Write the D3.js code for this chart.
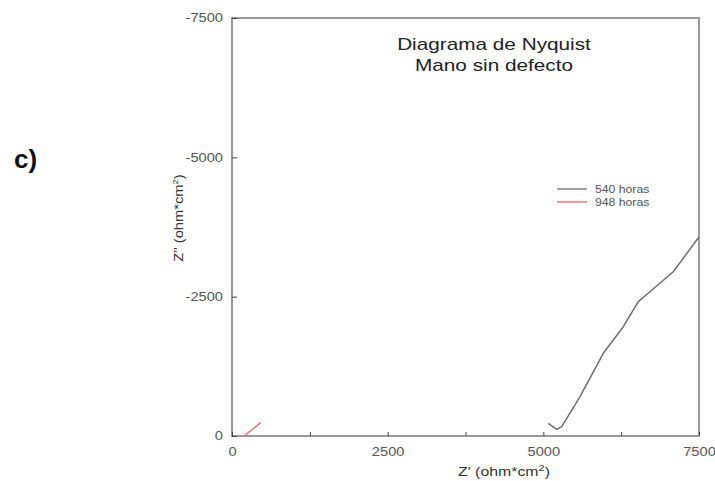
<!DOCTYPE html>
<html>
<head>
<meta charset="utf-8">
<script src="https://cdn.jsdelivr.net/npm/d3@7"></script>
<style>
  html, body { margin: 0; padding: 0; background: #fff; }
  svg { display: block; }
</style>
</head>
<body>
<svg id="chart" width="715" height="481"></svg>
<script>
// Impedance spectra (Z' real, Z'' imaginary), ohm*cm^2
const series540Re = [5080, 5215, 5295, 5589, 5963, 6284, 6525, 6713, 7087, 7463, 7500];
const series540Im = [-228, -120, -167, -705, -1484, -1961, -2410, -2589, -2948, -3517, -3570];
const series948Re = [200, 460];
const series948Im = [-5, -240];
const seriesNames = ["540 horas", "948 horas"];
const seriesColors = ["#6e6e6e", "#e8606a"];
const xTickValues = [0, 1250, 2500, 3750, 5000, 6250, 7500];
const xTickLabels = ["0", "", "2500", "", "5000", "", "7500"];
const yTickValues = [0, -2500, -5000, -7500];
const yTickLabels = ["0", "-2500", "-5000", "-7500"];

const svg = d3.select("#chart");
const plotLeft = 232, plotRight = 699, plotTop = 18, plotBottom = 436;

const x = d3.scaleLinear().domain([0, 7500]).range([plotLeft, plotRight]);
const y = d3.scaleLinear().domain([0, -7500]).range([plotBottom, plotTop]);

const axisColor = "#9a9a9a";
const labelColor = "#555";
const font = "Arial, 'Liberation Sans', sans-serif";
// the typeface is drawn slightly widened throughout
const widen = 1.22;

function widenText(sel) {
  sel.each(function () {
    const n = this;
    const w = n.getComputedTextLength();
    if (w > 0) {
      n.setAttribute("textLength", (w * widen).toFixed(1));
      n.setAttribute("lengthAdjust", "spacingAndGlyphs");
    }
  });
}

// frame
svg.append("rect")
  .attr("x", plotLeft).attr("y", plotTop)
  .attr("width", plotRight - plotLeft).attr("height", plotBottom - plotTop)
  .attr("fill", "none").attr("stroke", axisColor).attr("stroke-width", 2);

// x axis (ticks pointing inward)
const xAxis = d3.axisBottom(x)
  .tickValues(xTickValues)
  .tickSize(-4)
  .tickFormat((d, i) => xTickLabels[i]);
const gx = svg.append("g").attr("transform", `translate(0,${plotBottom})`).call(xAxis);
gx.select(".domain").remove();
gx.selectAll(".tick line").attr("stroke", "#444").attr("stroke-width", 1);
gx.selectAll(".tick text")
  .attr("y", 11)
  .attr("font-family", font)
  .attr("font-size", 12).attr("fill", labelColor)
  .call(widenText);

// y axis (ticks pointing inward)
const yAxis = d3.axisLeft(y)
  .tickValues(yTickValues)
  .tickSize(-5)
  .tickFormat((d, i) => yTickLabels[i]);
const gy = svg.append("g").attr("transform", `translate(${plotLeft},0)`).call(yAxis);
gy.select(".domain").remove();
gy.selectAll(".tick line").attr("stroke", "#444").attr("stroke-width", 1);
gy.selectAll(".tick text")
  .attr("x", -9)
  .attr("font-family", font)
  .attr("font-size", 12).attr("fill", labelColor)
  .call(widenText);

// axis titles
const xt = svg.append("text")
  .attr("x", 504).attr("y", 476)
  .attr("text-anchor", "middle")
  .attr("font-family", font)
  .attr("font-size", 13).attr("fill", "#333");
xt.append("tspan").text("Z' (ohm*cm");
xt.append("tspan").attr("font-size", 9).attr("dy", -5).text("2");
xt.append("tspan").attr("dy", 5).text(")");
xt.call(widenText);

const yt = svg.append("text")
  .attr("transform", "translate(183,218) rotate(-90)")
  .attr("text-anchor", "middle")
  .attr("font-family", font)
  .attr("font-size", 12).attr("fill", "#333");
yt.append("tspan").text("Z'' (ohm*cm");
yt.append("tspan").attr("font-size", 8).attr("dy", -5).text("2");
yt.append("tspan").attr("dy", 5).text(")");
yt.call(widenText);

// panel letter
svg.append("text")
  .attr("x", 14).attr("y", 168)
  .attr("font-family", font)
  .attr("font-weight", "bold").attr("font-size", 26).attr("fill", "#111")
  .text("c)");

// title
const titleLines = ["Diagrama de Nyquist", "Mano sin defecto"];
const titleG = svg.append("g")
  .attr("font-family", font)
  .attr("font-size", 17).attr("fill", "#222");
titleLines.forEach((t, i) => {
  titleG.append("text")
    .attr("x", 494).attr("y", 50 + i * 21)
    .attr("text-anchor", "middle")
    .text(t)
    .call(widenText);
});

// data lines
const line = d3.line().x(d => x(d[0])).y(d => y(d[1]));
const data540 = series540Re.map((v, i) => [v, series540Im[i]]);
const data948 = series948Re.map((v, i) => [v, series948Im[i]]);

svg.append("path").datum(data540)
  .attr("d", line).attr("fill", "none")
  .attr("stroke", seriesColors[0]).attr("stroke-width", 1.5)
  .attr("stroke-linejoin", "round");
svg.append("path").datum(data948)
  .attr("d", line).attr("fill", "none")
  .attr("stroke", seriesColors[1]).attr("stroke-width", 1.3);

// legend
const legend = svg.append("g").attr("transform", "translate(557,189)");
seriesNames.forEach((name, i) => {
  const g = legend.append("g").attr("transform", `translate(0,${i * 13})`);
  g.append("line").attr("x1", 0).attr("x2", 30).attr("y1", 0).attr("y2", 0)
    .attr("stroke", seriesColors[i]).attr("stroke-width", 1.3);
  g.append("text").attr("x", 38).attr("y", 3.5)
    .attr("font-family", font)
    .attr("font-size", 10).attr("fill", "#555")
    .text(name)
    .call(widenText);
});
</script>
</body>
</html>
